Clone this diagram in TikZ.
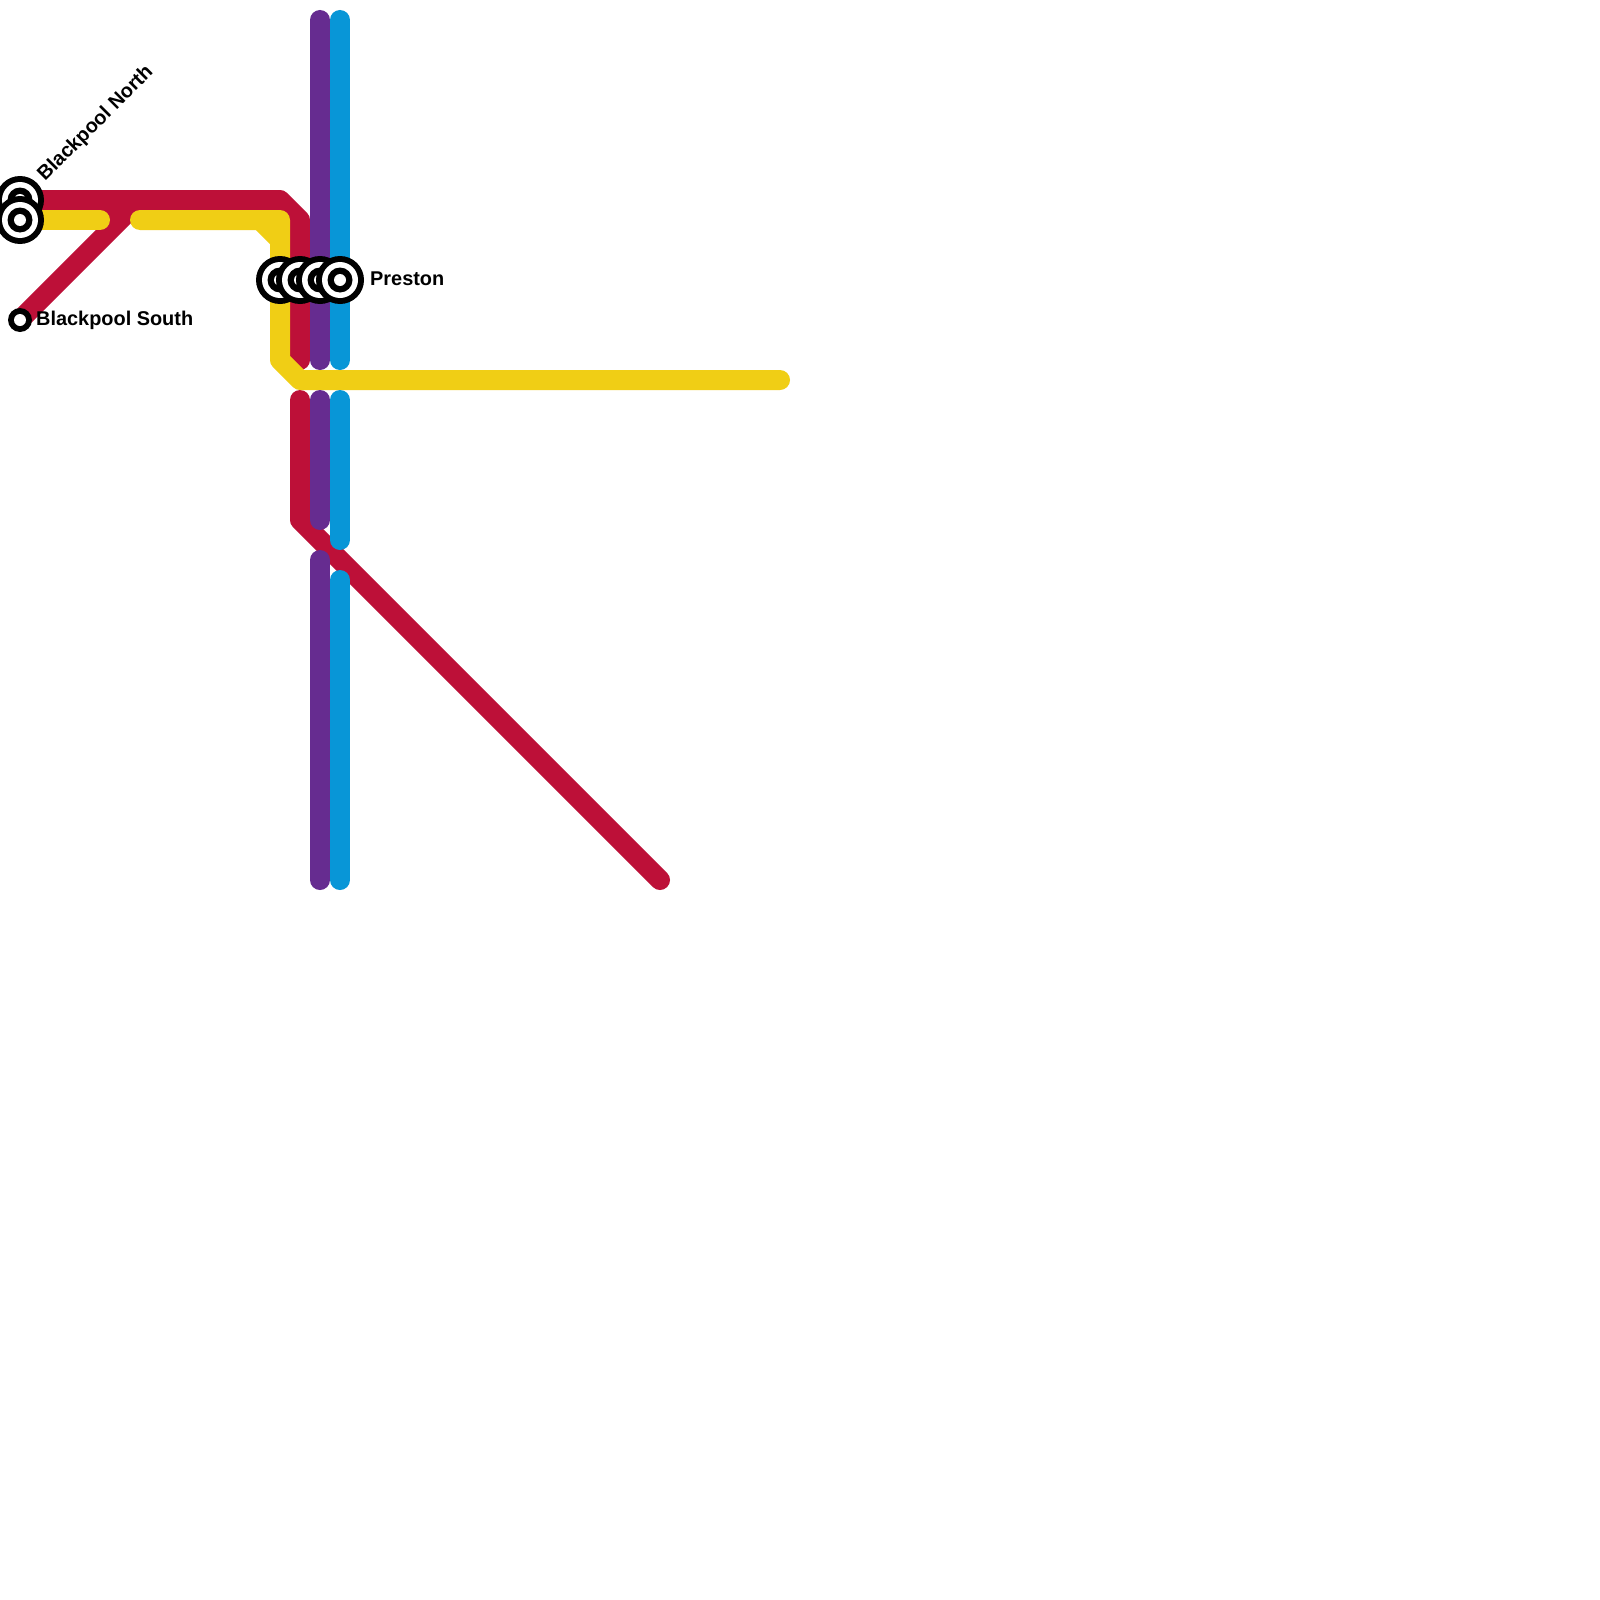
\documentclass[tikz,border=0pt]{standalone}
\usepackage{fontspec}
\setmainfont{Liberation Sans}
\definecolor{redline}{HTML}{BD1038}
\definecolor{yellowline}{HTML}{F0CE15}
\definecolor{purpleline}{HTML}{662C90}
\definecolor{blueline}{HTML}{0896D7}
\tikzset{
  track/.style={line width=20pt,line cap=round,line join=round},
  bigstation/.pic={
    \fill[black] (0,0) circle (24pt);
    \fill[white] (0,0) circle (18pt);
    \fill[black] (0,0) circle (12.5pt);
    \fill[white] (0,0) circle (6pt);
  },
  smallstation/.pic={
    \fill[black] (0,0) circle (12pt);
    \fill[white] (0,0) circle (6pt);
  },
  stationlabel/.style={inner sep=0pt,anchor=base west,font=\bfseries\fontsize{19.9}{22}\selectfont,text=black}
}
\begin{document}
\begin{tikzpicture}[x=1pt,y=-1pt]
\useasboundingbox (0,0) rectangle (1600,1600);
\fill[white] (0,0) rectangle (1600,1600);
% junction points
\coordinate (bn) at (20,200);
\coordinate (bny) at (20,220);
\coordinate (bs) at (20,320);
\coordinate (py) at (280,280);
\coordinate (pr) at (300,280);
\coordinate (pp) at (320,280);
\coordinate (pb) at (340,280);
% red
\draw[track,redline] (bn) -- (280,200) -- (300,220) -- (300,360);
\draw[track,redline] (bs) -- (140,200);
\draw[track,redline] (100,220) -- (120,200);
\draw[track,redline] (300,400) -- (300,520) -- (660,880);
% yellow
\draw[track,yellowline] (bny) -- (100,220);
\draw[track,yellowline] (140,220) -- (280,220) -- (280,360) -- (300,380) -- (780,380);
\draw[track,yellowline,line cap=butt] (260,220) -- (280,240);
% purple
\draw[track,purpleline] (320,20) -- (320,360);
\draw[track,purpleline] (320,400) -- (320,520);
\draw[track,purpleline] (320,560) -- (320,880);
% blue
\draw[track,blueline] (340,20) -- (340,360);
\draw[track,blueline] (340,400) -- (340,540);
\draw[track,blueline] (340,580) -- (340,880);
% stations
\pic at (bn) {bigstation};
\pic at (bny) {bigstation};
\pic at (bs) {smallstation};
\pic at (py) {bigstation};
\pic at (pr) {bigstation};
\pic at (pp) {bigstation};
\pic at (pb) {bigstation};
% labels
\node[stationlabel,rotate=45] (lbn) at (45,182) {Blackpool North};
\node[stationlabel] (lbs) at (36,325) {Blackpool South};
\node[stationlabel] (lpr) at (370,285) {Preston};
\end{tikzpicture}
\end{document}
